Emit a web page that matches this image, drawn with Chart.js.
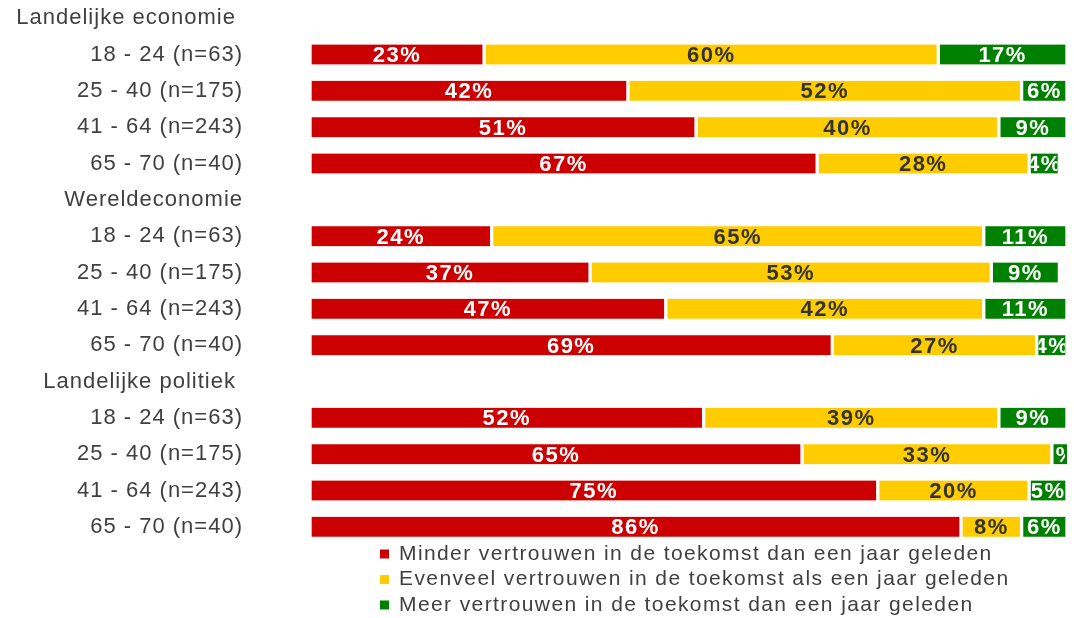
<!DOCTYPE html>
<html>
<head>
<meta charset="utf-8">
<script src="https://cdn.jsdelivr.net/npm/chart.js@4"></script>
<style>
    body { margin: 0; background: #ffffff; }
    #wrap { width: 1074px; height: 618px; }
</style>
</head>
<body>
<div id="wrap"><canvas id="vertrouwenChart" width="1074" height="618"></canvas></div>
<script>
// Categorieën (kopjes + leeftijdsgroepen)
const categories = [
    'Landelijke economie ', '18 - 24 (n=63)', '25 - 40 (n=175)', '41 - 64 (n=243)', '65 - 70 (n=40)',
    'Wereldeconomie', '18 - 24 (n=63)', '25 - 40 (n=175)', '41 - 64 (n=243)', '65 - 70 (n=40)',
    'Landelijke politiek ', '18 - 24 (n=63)', '25 - 40 (n=175)', '41 - 64 (n=243)', '65 - 70 (n=40)'
];

const seriesNames = [
    'Minder vertrouwen in de toekomst dan een jaar geleden',
    'Evenveel vertrouwen in de toekomst als een jaar geleden',
    'Meer vertrouwen in de toekomst dan een jaar geleden'
];

const minder   = [null, 23, 42, 51, 67, null, 24, 37, 47, 69, null, 52, 65, 75, 86];
const evenveel = [null, 60, 52, 40, 28, null, 65, 53, 42, 27, null, 39, 33, 20, 8];
const meer     = [null, 17, 6, 9, 4, null, 11, 9, 11, 4, null, 9, 3, 5, 6];

const colors = ['#cc0000', '#ffcc00', '#008000'];
const labelColors = ['#ffffff', '#333333', '#ffffff'];

const FONT = '"Liberation Sans", Arial, sans-serif';

// letter spacing wordt bij elke resize gereset, dus steeds opnieuw zetten
const spacingPlugin = {
    id: 'spacing',
    beforeUpdate(chart) { chart.ctx.letterSpacing = '1px'; },
    beforeDraw(chart) { chart.ctx.letterSpacing = '1px'; }
};

// percentages in de balken, afgekapt tot het segment
const barLabels = {
    id: 'barLabels',
    afterDatasetsDraw(chart) {
        const ctx = chart.ctx;
        chart.data.datasets.forEach((ds, di) => {
            const meta = chart.getDatasetMeta(di);
            meta.data.forEach((bar, i) => {
                const v = ds.data[i];
                if (v === null || v === undefined) return;
                const p = bar.getProps(['x', 'y', 'base', 'height'], true);
                const left = Math.min(p.x, p.base) + 2;
                const right = Math.min(Math.max(p.x, p.base) - 2, chart.chartArea.right - 2);
                ctx.save();
                ctx.beginPath();
                ctx.rect(left, p.y - p.height / 2, right - left, p.height);
                ctx.clip();
                ctx.letterSpacing = '1.5px';
                ctx.font = 'bold 22px ' + FONT;
                ctx.fillStyle = labelColors[di];
                ctx.textAlign = 'center';
                ctx.textBaseline = 'middle';
                ctx.fillText(v + '%', (left + right) / 2, p.y + 1.5);
                ctx.restore();
            });
        });
    }
};

// legenda onder de grafiek, links uitgelijnd
const bottomLegend = {
    id: 'bottomLegend',
    afterDraw(chart) {
        const ctx = chart.ctx;
        const x0 = chart.chartArea.left + 70;
        const y0 = chart.chartArea.bottom + 9;
        ctx.save();
        ctx.letterSpacing = '1.4px';
        ctx.font = '21px ' + FONT;
        ctx.textBaseline = 'middle';
        ctx.textAlign = 'left';
        chart.data.datasets.forEach((ds, i) => {
            const y = y0 + i * 25.5;
            ctx.fillStyle = ds.backgroundColor;
            ctx.fillRect(x0, y - 4.5, 9, 9);
            ctx.fillStyle = '#404040';
            ctx.fillText(ds.label, x0 + 19, y);
        });
        ctx.restore();
    }
};

const datasets = [minder, evenveel, meer].map((data, i) => ({
    label: seriesNames[i],
    data: data,
    backgroundColor: colors[i],
    borderColor: '#ffffff',
    borderWidth: { left: 2, right: 2, top: 0, bottom: 0 },
    borderSkipped: false,
    barThickness: 20
}));

new Chart(document.getElementById('vertrouwenChart').getContext('2d'), {
    type: 'bar',
    data: { labels: categories, datasets: datasets },
    options: {
        indexAxis: 'y',
        responsive: false,
        animation: false,
        layout: { padding: { top: 0, right: 7, bottom: 73, left: 0 } },
        plugins: {
            legend: { display: false },
            tooltip: { enabled: false }
        },
        scales: {
            x: {
                stacked: true,
                min: 0,
                max: 100,
                display: false
            },
            y: {
                stacked: true,
                afterFit(scale) {
                    scale.width = 310;
                    scale.paddingTop = 0;
                    scale.paddingBottom = 0;
                },
                grid: { display: false, drawTicks: false },
                border: { display: false },
                ticks: {
                    padding: 67,
                    color: '#404040',
                    font: { family: FONT, size: 22 }
                }
            }
        }
    },
    plugins: [spacingPlugin, barLabels, bottomLegend]
});
</script>
</body>
</html>
